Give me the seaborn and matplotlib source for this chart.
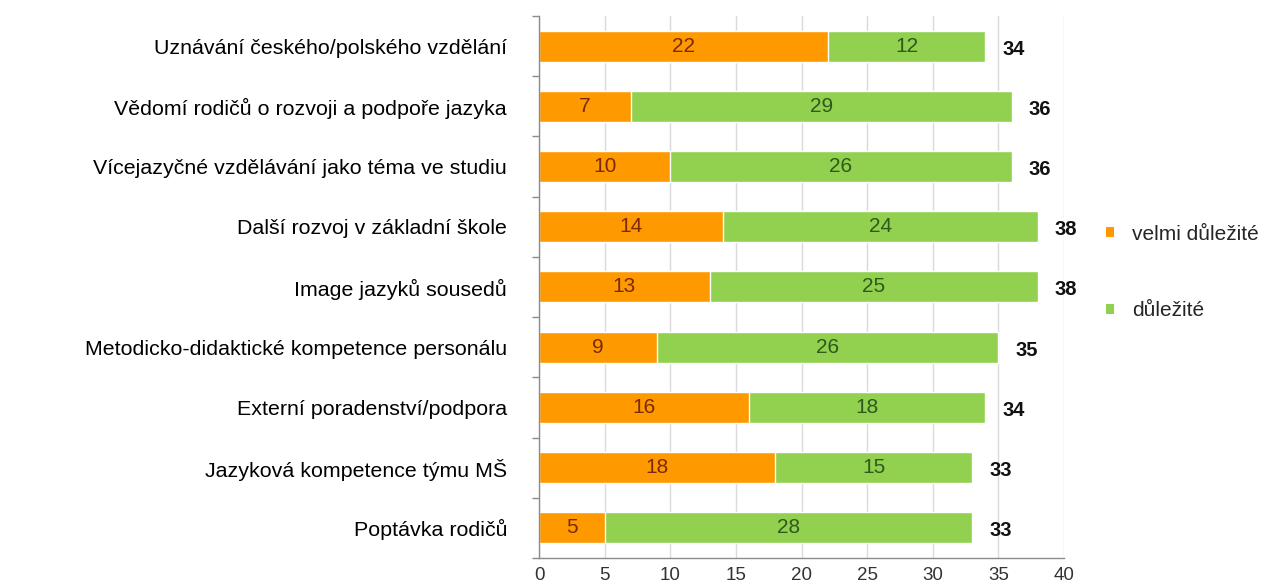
import numpy as np
import pandas as pd
import matplotlib
matplotlib.use('Agg')
from matplotlib import pyplot as plt
from matplotlib.patches import Patch
from matplotlib.ticker import FixedLocator, MultipleLocator
import seaborn as sns

categories = [
    'Uznávání českého/polského vzdělání',
    'Vědomí rodičů o rozvoji a podpoře jazyka',
    'Vícejazyčné vzdělávání jako téma ve studiu',
    'Další rozvoj v základní škole',
    'Image jazyků sousedů',
    'Metodicko-didaktické kompetence personálu',
    'Externí poradenství/podpora',
    'Jazyková kompetence týmu MŠ',
    'Poptávka rodičů',
]
velmi_dulezite = [22, 7, 10, 14, 13, 9, 16, 18, 5]
dulezite = [12, 29, 26, 24, 25, 26, 18, 15, 28]
series_names = ['velmi důležité', 'důležité']

ORANGE = '#FF9900'
GREEN = '#92D050'

sns.set_theme(style='white')
plt.rcParams['font.family'] = ['Liberation Sans', 'DejaVu Sans']

df = pd.DataFrame({'kategorie': categories,
                   'velmi': velmi_dulezite,
                   'dulezite': dulezite})
df['celkem'] = df['velmi'] + df['dulezite']

fig = plt.figure(figsize=(12.66, 5.85), dpi=100)
ax = fig.add_axes([0.4258, 0.0462, 0.4147, 0.9265])

# stacked bars: total in green, orange drawn over it
sns.barplot(data=df, y='kategorie', x='celkem', color=GREEN, orient='h',
            width=0.515, saturation=1, ax=ax)
sns.barplot(data=df, y='kategorie', x='velmi', color=ORANGE, orient='h',
            width=0.515, saturation=1, ax=ax)

for i, row in df.iterrows():
    ax.text(row['velmi'] / 2, i, str(row['velmi']), ha='center', va='center',
            fontsize=15, color='#7A2A08')
    ax.text(row['velmi'] + row['dulezite'] / 2, i, str(row['dulezite']),
            ha='center', va='center', fontsize=15, color='#2E5A1C')
    ax.text(row['celkem'] + 1.3, i + 0.05, str(row['celkem']), ha='left',
            va='center', fontsize=14.5, fontweight='bold', color='#111111')

ax.set_xlim(0, 40)
ax.set_ylim(len(categories) - 0.5, -0.5)
ax.xaxis.set_major_locator(MultipleLocator(5))
ax.grid(axis='x', color='#DADADA', linewidth=1)
ax.set_axisbelow(True)
ax.set_xlabel('')
ax.set_ylabel('')

for side in ['top', 'right']:
    ax.spines[side].set_visible(False)
for side in ['left', 'bottom']:
    ax.spines[side].set_color('#8C8C8C')
    ax.spines[side].set_linewidth(1)

ax.tick_params(axis='x', which='major', length=4, color='#8C8C8C',
               labelsize=13.5, labelcolor='#333333', pad=2.5, direction='out')
ax.tick_params(axis='y', which='major', length=0, labelsize=15.4,
               labelcolor='#000000', pad=23)
ax.yaxis.set_minor_locator(FixedLocator(np.arange(-0.5, len(categories), 1)))
ax.tick_params(axis='y', which='minor', length=5, color='#8C8C8C',
               direction='out', left=True)

handles = [Patch(facecolor=ORANGE, edgecolor='none'),
           Patch(facecolor=GREEN, edgecolor='none')]
fig.legend(handles, series_names, loc='upper left',
           bbox_to_anchor=(0.864, 0.637), frameon=False, fontsize=15,
           handlelength=0.35, handleheight=0.35, handletextpad=0.9,
           labelspacing=2.75, borderaxespad=0.2)

fig.savefig('out.png', dpi=100)
